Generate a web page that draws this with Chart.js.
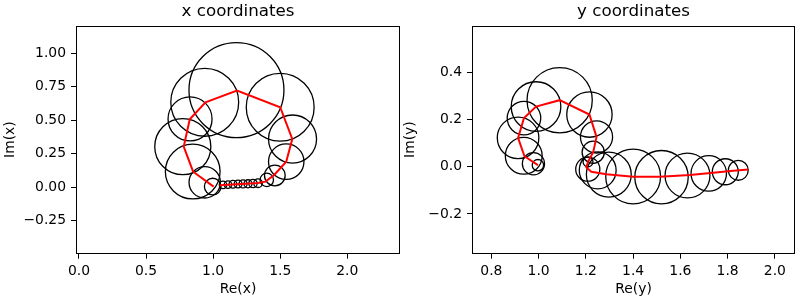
<!DOCTYPE html>
<html>
<head>
<meta charset="utf-8">
<script src="https://cdn.jsdelivr.net/npm/chart.js"></script>
<style>
html, body { margin: 0; padding: 0; background: #fff; }
#wrap { position: relative; width: 800px; height: 300px; }
.box { position: absolute; top: 0; width: 400px; height: 300px; }
</style>
</head>
<body>
<div id="wrap">
  <div class="box" style="left:0"><canvas id="chartX"></canvas></div>
  <div class="box" style="left:400px"><canvas id="chartY"></canvas></div>
</div>
<script>
// x coordinates: circles (centre + radius) and the red path
const xCircleRe = [0.997, 0.9375, 0.848, 0.774, 0.828, 0.9375, 1.174, 1.500, 1.592, 1.545, 1.460, 1.400, 1.335, 1.297, 1.260, 1.223, 1.186, 1.148, 1.111, 1.074];
const xCircleIm = [0.005, 0.037, 0.117, 0.303, 0.510, 0.634, 0.725, 0.597, 0.360, 0.191, 0.088, 0.055, 0.030, 0.028, 0.026, 0.025, 0.024, 0.022, 0.020, 0.018];
const xCircleR  = [0.062, 0.117, 0.204, 0.209, 0.164, 0.253, 0.354, 0.253, 0.179, 0.132, 0.077, 0.050, 0.032, 0.031, 0.030, 0.030, 0.029, 0.029, 0.028, 0.028];
const xPathRe = [1.004, 0.851, 0.781, 0.826, 0.943, 1.178, 1.500, 1.590, 1.545, 1.455, 1.390, 1.335, 1.049];
const xPathIm = [0.005, 0.116, 0.303, 0.507, 0.634, 0.721, 0.597, 0.360, 0.191, 0.092, 0.042, 0.032, 0.015];

// y coordinates
const yCircleRe = [0.997, 0.978, 0.937, 0.913, 0.938, 0.989, 1.089, 1.215, 1.245, 1.231, 1.209, 1.208, 1.250, 1.297, 1.400, 1.520, 1.630, 1.720, 1.790, 1.845];
const yCircleIm = [0.007, 0.013, 0.047, 0.123, 0.207, 0.256, 0.283, 0.222, 0.127, 0.062, 0.021, -0.010, -0.015, -0.033, -0.041, -0.044, -0.037, -0.028, -0.021, -0.015];
const yCircleR  = [0.024, 0.047, 0.078, 0.088, 0.071, 0.105, 0.138, 0.096, 0.068, 0.047, 0.021, 0.051, 0.078, 0.095, 0.116, 0.113, 0.095, 0.075, 0.055, 0.042];
const yPathRe = [0.997, 0.940, 0.913, 0.938, 0.989, 1.089, 1.215, 1.245, 1.231, 1.209, 1.202, 1.223, 1.287, 1.400, 1.513, 1.640, 1.739, 1.824, 1.887];
const yPathIm = [0.007, 0.045, 0.123, 0.207, 0.256, 0.283, 0.222, 0.127, 0.062, 0.021, -0.003, -0.021, -0.032, -0.042, -0.042, -0.035, -0.025, -0.017, -0.011];

// tick labels
const xReTicks = [0.0, 0.5, 1.0, 1.5, 2.0];
const xImTicks = [-0.25, 0.00, 0.25, 0.50, 0.75, 1.00];
const yReTicks = [0.8, 1.0, 1.2, 1.4, 1.6, 1.8, 2.0];
const yImTicks = [-0.2, 0.0, 0.2, 0.4];

const FONT = '"DejaVu Sans", sans-serif';

const frame = {
  id: 'frame',
  afterDraw(chart) {
    const {ctx, chartArea: a} = chart;
    ctx.save();
    ctx.strokeStyle = '#000';
    ctx.lineWidth = 1;
    ctx.strokeRect(Math.round(a.left) + 0.5, Math.round(a.top) + 0.5,
                   Math.round(a.right - a.left) - 1, Math.round(a.bottom - a.top) - 1);
    ctx.restore();
  }
};

function fmt(v, d) {
  return v.toFixed(d).replace('-', '\u2212');
}

function makeChart(id, cfg) {
  const circles = cfg.cRe.map((x, i) => ({x: x, y: cfg.cIm[i]}));
  const path = cfg.pRe.map((x, i) => ({x: x, y: cfg.pIm[i]}));
  return new Chart(document.getElementById(id), {
    type: 'scatter',
    data: {
      datasets: [
        {
          data: path,
          showLine: true,
          borderColor: 'red',
          borderWidth: 2,
          pointRadius: 0,
          order: 0
        },
        {
          data: circles,
          showLine: false,
          pointRadius: c => {
            const s = c.chart.scales.x;
            const i = c.dataIndex;
            return Math.abs(s.getPixelForValue(cfg.cRe[i] + cfg.cR[i]) - s.getPixelForValue(cfg.cRe[i]));
          },
          pointBorderColor: '#000',
          pointBackgroundColor: 'rgba(0,0,0,0)',
          pointBorderWidth: 1.3,
          order: 1
        }
      ]
    },
    options: {
      responsive: true,
      maintainAspectRatio: false,
      animation: false,
      events: [],
      layout: { padding: { left: 0, right: cfg.padRight, top: 0, bottom: 0 } },
      plugins: {
        legend: { display: false },
        tooltip: { enabled: false },
        title: {
          display: true,
          text: cfg.title,
          fullSize: false,
          color: '#000',
          font: { family: FONT, size: 16.7, weight: 'normal' },
          padding: { top: 2, bottom: 3.5 }
        }
      },
      scales: {
        x: {
          type: 'linear',
          min: cfg.xMin, max: cfg.xMax,
          afterBuildTicks: s => { s.ticks = cfg.xTicks.map(v => ({value: v})); },
          afterFit: s => { s.height = 46.3; },
          ticks: {
            autoSkip: false, maxRotation: 0, padding: 4, color: '#000',
            font: { family: FONT, size: 13.9 },
            callback: v => fmt(v, cfg.xDec)
          },
          grid: { drawOnChartArea: false, color: '#000', tickLength: 5 },
          border: { display: false },
          title: {
            display: true, text: cfg.xLabel, color: '#000',
            font: { family: FONT, size: 13.9 },
            padding: { top: 0, bottom: 2 }
          }
        },
        y: {
          type: 'linear',
          min: cfg.yMin, max: cfg.yMax,
          afterBuildTicks: s => { s.ticks = cfg.yTicks.map(v => ({value: v})); },
          afterFit: s => { s.width = cfg.yWidth; },
          ticks: {
            autoSkip: false, padding: 5, color: '#000',
            font: { family: FONT, size: 13.9 },
            callback: v => fmt(v, cfg.yDec)
          },
          grid: { drawOnChartArea: false, color: '#000', tickLength: 5 },
          border: { display: false },
          title: {
            display: true, text: cfg.yLabel, color: '#000',
            font: { family: FONT, size: 13.9 },
            padding: { top: 2, bottom: 0 }
          }
        }
      }
    },
    plugins: [frame]
  });
}

makeChart('chartX', {
  title: 'x coordinates', xLabel: 'Re(x)', yLabel: 'Im(x)',
  cRe: xCircleRe, cIm: xCircleIm, cR: xCircleR, pRe: xPathRe, pIm: xPathIm,
  xMin: -0.022, xMax: 2.393, yMin: -0.496, yMax: 1.207,
  xTicks: xReTicks, yTicks: xImTicks, xDec: 1, yDec: 2,
  yWidth: 76, padRight: 0
});

makeChart('chartY', {
  title: 'y coordinates', xLabel: 'Re(y)', yLabel: 'Im(y)',
  cRe: yCircleRe, cIm: yCircleIm, cR: yCircleR, pRe: yPathRe, pIm: yPathIm,
  xMin: 0.718, xMax: 2.085, yMin: -0.369, yMax: 0.600,
  xTicks: yReTicks, yTicks: yImTicks, xDec: 1, yDec: 1,
  yWidth: 72, padRight: 5
});
</script>
</body>
</html>
